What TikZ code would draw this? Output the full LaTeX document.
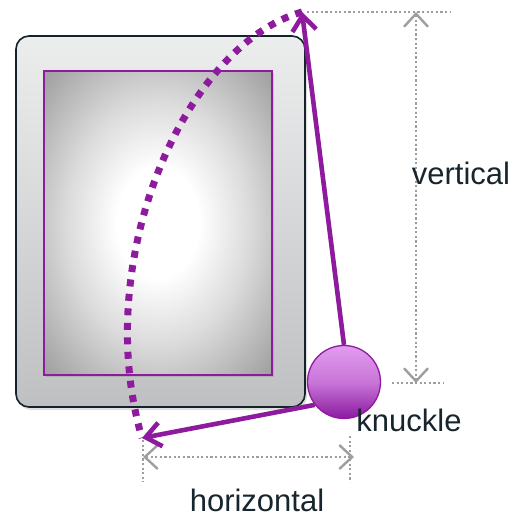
\documentclass[tikz,border=0pt]{standalone}
\usepackage{fontspec}
\setmainfont{Liberation Sans}
\usetikzlibrary{arrows.meta,shadows,calc}
\definecolor{pline}{RGB}{142,26,158}
\definecolor{dimgray}{RGB}{158,158,158}
\definecolor{txt}{RGB}{23,37,45}
\definecolor{frameTop}{RGB}{236,238,238}
\definecolor{frameBot}{RGB}{190,192,194}
\definecolor{frameLine}{RGB}{22,34,42}
\definecolor{ballTop}{RGB}{226,156,240}
\definecolor{ballBot}{RGB}{140,26,160}
\pgfdeclareradialshading{screenshade}{\pgfpoint{0bp}{0bp}}{color(0bp)=(white); color(9bp)=(white); color(20bp)=(black!14); color(34bp)=(black!36); color(50bp)=(black!42)}
\tikzset{
  lbl/.style={font=\fontsize{31}{36}\selectfont, text=txt, inner sep=0pt},
  dimline/.style={dimgray, line width=2.2pt, dash pattern=on 2.2pt off 2.4pt},
  dimarrow/.style={dimgray, line width=2.2pt, dash pattern=on 2.2pt off 2.4pt, {Straight Barb[length=13pt,width=24pt,line width=2.4pt,sep=0pt]}-{Straight Barb[length=13pt,width=24pt,line width=2.4pt,sep=0pt]}},
  parrow/.style={pline, line width=4.6pt, -{Straight Barb[length=15pt,width=24pt]}},
  pdots/.style={pline, line width=7pt, dash pattern=on 7pt off 7.5pt},
}
\begin{document}
\begin{tikzpicture}[x=1pt,y=-1pt]
\useasboundingbox (0,0) rectangle (515,518);
% device frame
\node (frame) [draw=frameLine, line width=1.6pt, rounded corners=13pt, top color=frameTop, bottom color=frameBot, minimum width=289pt, minimum height=371pt, inner sep=0pt, drop shadow={opacity=0.25, shadow xshift=2pt, shadow yshift=-3pt}] at (160.5,221.5) {};
\node (screen) [draw=pline, line width=1.3pt, shading=screenshade, minimum width=228pt, minimum height=304pt, inner sep=0pt, drop shadow={opacity=0.3, shadow xshift=2pt, shadow yshift=-2pt}] at (158,223) {};
% reference coordinates
\coordinate (top) at (302,12);
\coordinate (bot) at (142,438);
% dotted swing arc
\draw[pdots] (top) .. controls (185,45) and (90,260) .. (bot);
% dimension lines
\coordinate (vt0) at (307,12);
\coordinate (vt1) at (450,12);
\coordinate (vb0) at (392,383);
\coordinate (vb1) at (443,383);
\coordinate (va) at (416,12);
\coordinate (vb) at (416,383);
\draw[dimline] (vt0) -- (vt1);
\draw[dimline] (vb0) -- (vb1);
\draw[dimarrow] (va) -- (vb);
\coordinate (hl0) at (143,440);
\coordinate (hl1) at (143,482);
\coordinate (hr0) at (350,436);
\coordinate (hr1) at (350,482);
\coordinate (ha) at (143,457);
\coordinate (hb) at (354,457);
\draw[dimline] (hl0) -- (hl1);
\draw[dimline] (hr0) -- (hr1);
\draw[dimarrow] (ha) -- (hb);
% knuckle
\node (ball) [circle, draw=pline, line width=1.3pt, top color=ballTop, bottom color=ballBot, middle color=ballTop!70!ballBot, minimum size=73pt, inner sep=0pt] at (344,382) {};
\draw[parrow] (ball.north) -- (top);
\draw[parrow] (ball.218) -- (bot);
% labels
\node (lv) [lbl] at (461,173) {vertical};
\node (lk) [lbl] at (409,420) {knuckle};
\node (lh) [lbl] at (257,500) {horizontal};
\end{tikzpicture}
\end{document}
